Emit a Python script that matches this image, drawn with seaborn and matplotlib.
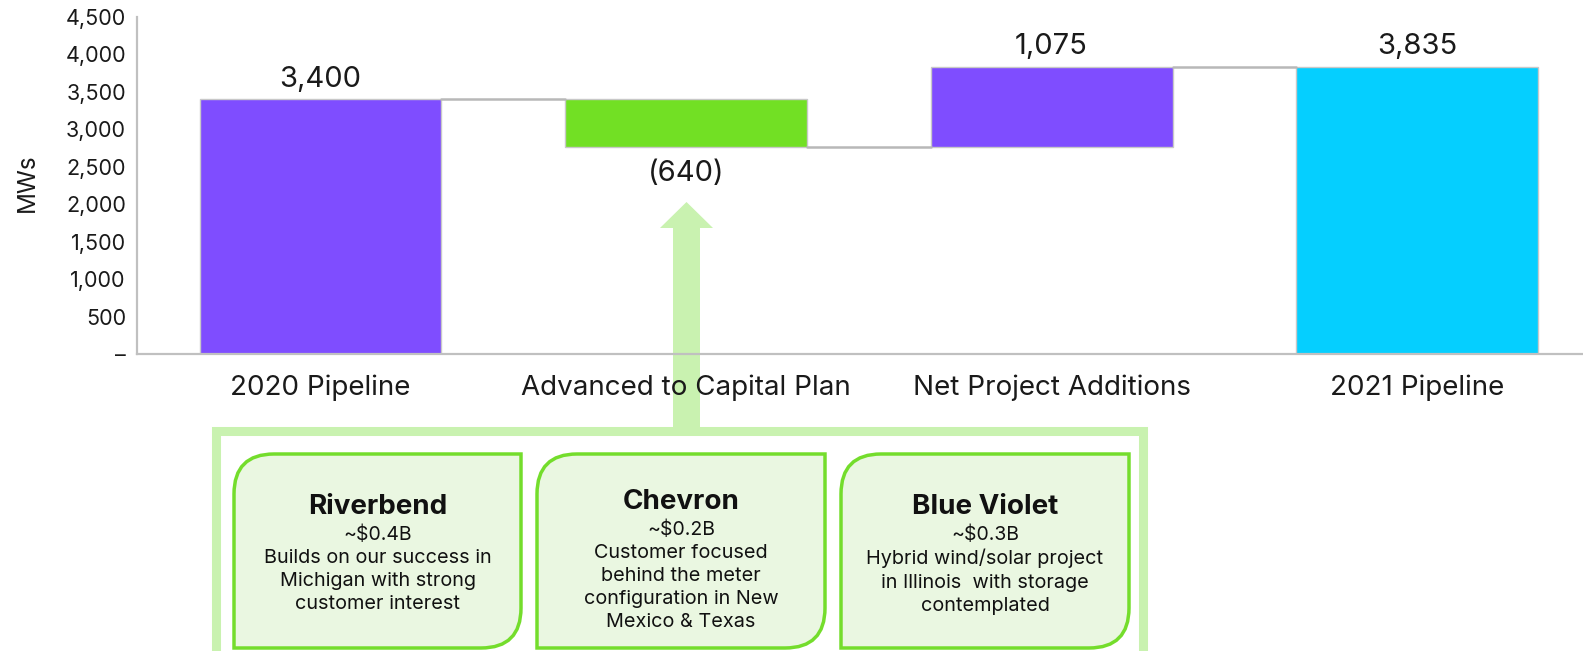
import numpy as np
import pandas as pd
import matplotlib
matplotlib.use("Agg")
import matplotlib.pyplot as plt
from matplotlib.path import Path
from matplotlib.patches import PathPatch, Polygon, Rectangle
import seaborn as sns

# --- data ---
categories = ["2020 Pipeline", "Advanced to Capital Plan", "Net Project Additions", "2021 Pipeline"]
changes = [3400, -640, 1075, 3835]
is_total = [True, False, False, True]
value_labels = ["3,400", "(640)", "1,075", "3,835"]
bar_colors = ["#7f4dff", "#72e024", "#7f4dff", "#05cfff"]
y_ticks = [0, 500, 1000, 1500, 2000, 2500, 3000, 3500, 4000, 4500]

projects = ["Riverbend", "Chevron", "Blue Violet"]
project_costs = ["~$0.4B", "~$0.2B", "~$0.3B"]
project_notes = [
    "Builds on our success in\nMichigan with strong\ncustomer interest",
    "Customer focused\nbehind the meter\nconfiguration in New\nMexico & Texas",
    "Hybrid wind/solar project\nin Illinois  with storage\ncontemplated",
]

# --- waterfall geometry ---
bottoms, tops, levels = [], [], []
running = 0
for v, tot in zip(changes, is_total):
    if tot:
        b, t = 0, v
        running = v
    else:
        new = running + v
        b, t = min(running, new), max(running, new)
        running = new
    bottoms.append(b)
    tops.append(t)
    levels.append(running)

df = pd.DataFrame({"category": categories, "top": tops, "bottom": bottoms})

sns.set_theme(style="white")
plt.rcParams["font.family"] = ["Inter", "DejaVu Sans"]

W, H = 1583, 651
fig = plt.figure(figsize=(W / 100, H / 100), dpi=100)
ax = fig.add_axes([137 / W, 1 - 354 / H, 1446 / W, 337 / H])
ax.patch.set_alpha(0)

bar_w = 0.662
sns.barplot(data=df, x="category", y="top", hue="category", palette=bar_colors,
            legend=False, width=bar_w, saturation=1, edgecolor="#c8c8c8",
            linewidth=1, ax=ax)
for p, b, t in zip(ax.patches, bottoms, tops):
    p.set_y(b)
    p.set_height(t - b)

# connectors
for i in range(len(categories) - 1):
    ax.plot([i + bar_w / 2, i + 1 - bar_w / 2], [levels[i], levels[i]],
            color="#b8b8b8", lw=1.8, zorder=1)

# value labels
for i, (lab, v) in enumerate(zip(value_labels, changes)):
    if v >= 0:
        ax.text(i, tops[i] + 90, lab, ha="center", va="bottom", fontsize=21, color="#1a1a1a")
    else:
        ax.text(i, bottoms[i] - 170, lab, ha="center", va="top", fontsize=21, color="#1a1a1a")

ax.set_xlim(-0.502, 3.454)
ax.set_ylim(0, 4500)
ax.set_yticks(y_ticks)
ax.set_yticklabels(["\u2013" if t == 0 else f"{t:,}" for t in y_ticks], fontsize=15.5, color="#1a1a1a")
ax.tick_params(axis="x", labelsize=20, pad=15, length=0, labelcolor="#1a1a1a")
ax.tick_params(axis="y", length=0, pad=8)
ax.set_xlabel("")
ax.set_ylabel("MWs", fontsize=17.5, color="#1a1a1a")
ax.yaxis.set_label_coords(-0.068, 0.507)
for s in ["top", "right"]:
    ax.spines[s].set_visible(False)
for s in ["left", "bottom"]:
    ax.spines[s].set_color("#c0c0c0")
    ax.spines[s].set_linewidth(1.6)


# --- callout (figure pixel coordinates) ---
def fx(x):
    return x / W


def fy(y):
    return 1 - y / H


light_green = "#c9f2b0"
arrow = Polygon([(fx(673), fy(432)), (fx(673), fy(228)), (fx(660), fy(228)),
                 (fx(686.5), fy(202)), (fx(713), fy(228)), (fx(700), fy(228)),
                 (fx(700), fy(432))], closed=True, transform=fig.transFigure,
                facecolor=light_green, edgecolor="none", zorder=-1)
fig.add_artist(arrow)

outer = Rectangle((fx(216), fy(700)), fx(1143) - fx(216), fy(431) - fy(700),
                  transform=fig.transFigure, facecolor="none",
                  edgecolor=light_green, linewidth=6.5, zorder=2)
fig.add_artist(outer)


def diag_box(x0, y0, x1, y1, r):
    verts = [(x0 + r, y0), (x1, y0), (x1, y1 - r), (x1, y1), (x1 - r, y1),
             (x0, y1), (x0, y0 + r), (x0, y0), (x0 + r, y0), (x0 + r, y0)]
    codes = [Path.MOVETO, Path.LINETO, Path.LINETO, Path.CURVE3, Path.CURVE3,
             Path.LINETO, Path.LINETO, Path.CURVE3, Path.CURVE3, Path.CLOSEPOLY]
    return Path([(fx(x), fy(y)) for x, y in verts], codes)


box_x = [(234, 521), (537, 825), (841, 1129)]
for (x0, x1), name, cost, note in zip(box_x, projects, project_costs, project_notes):
    patch = PathPatch(diag_box(x0, 454, x1, 648, 40), transform=fig.transFigure,
                      facecolor="#eaf7e1", edgecolor="#74dd2c", linewidth=2.5, zorder=3)
    fig.add_artist(patch)
    cx = fx((x0 + x1) / 2)
    shift = 5 * (note.count("\n") - 2)
    fig.text(cx, fy(507 - shift), name, ha="center", va="center", fontsize=20,
             fontweight="bold", color="#111111", zorder=4)
    fig.text(cx, fy(535 - shift), cost, ha="center", va="center", fontsize=14,
             color="#111111", zorder=4)
    fig.text(cx, fy(549 - shift), note, ha="center", va="top", fontsize=14.3,
             linespacing=1.36, color="#111111", zorder=4)

fig.savefig("out.png", dpi=100)
